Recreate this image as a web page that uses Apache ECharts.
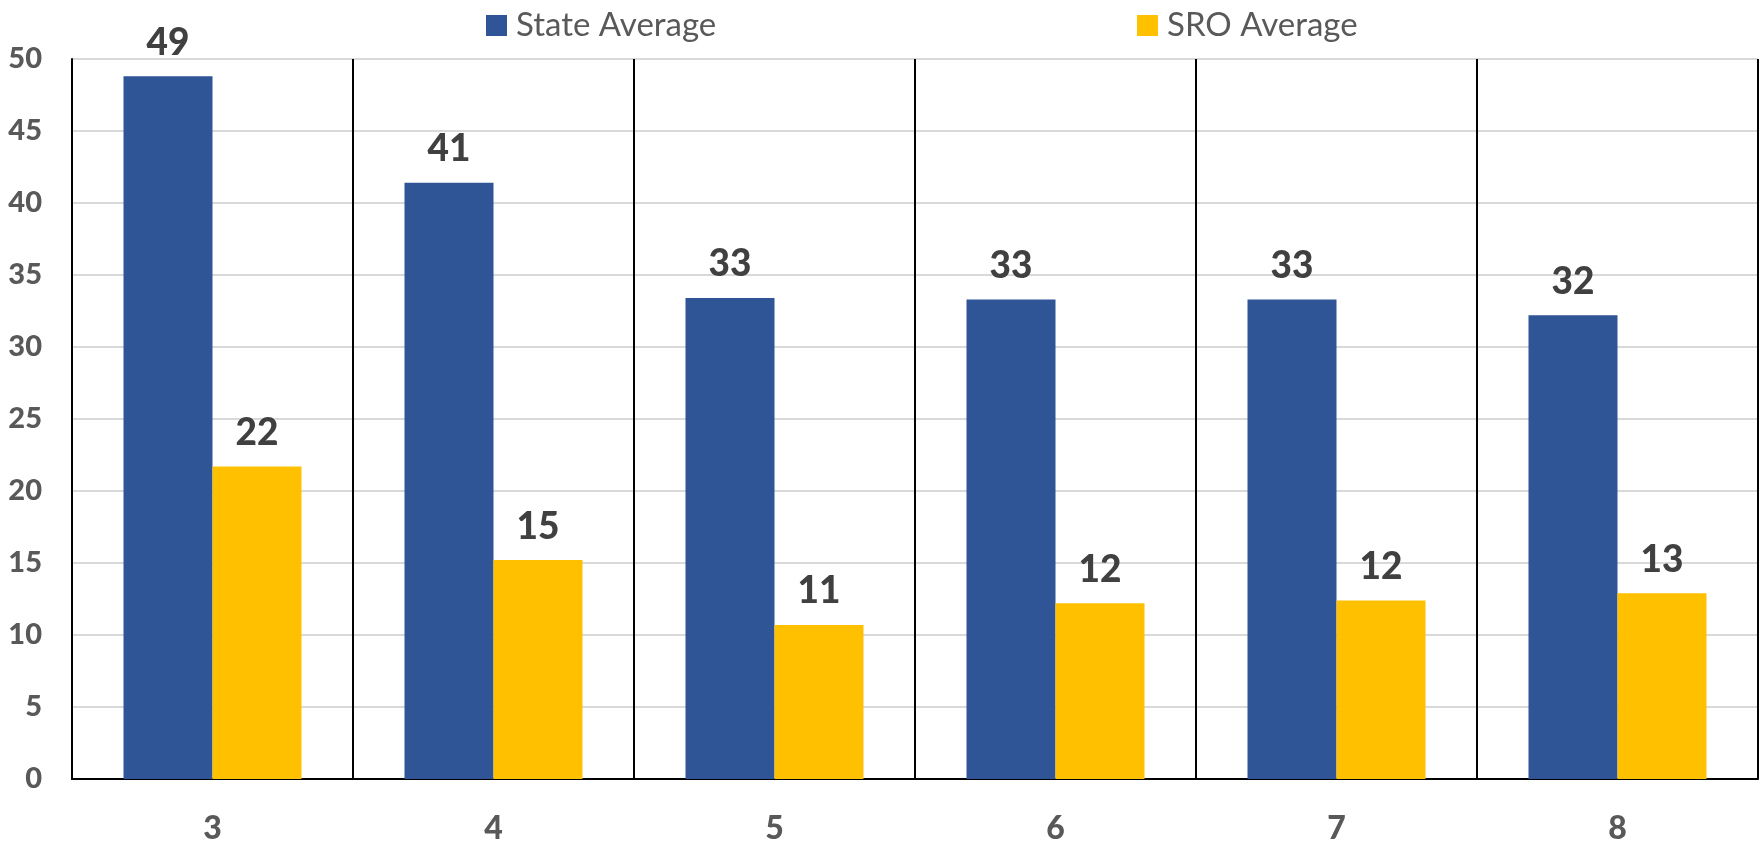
<!DOCTYPE html>
<html>
<head>
<meta charset="utf-8">
<script src="https://cdn.jsdelivr.net/npm/echarts@6/dist/echarts.min.js"></script>
<style>
  html, body { margin: 0; padding: 0; background: #fff; }
  #chart { width: 1760px; height: 845px; }
</style>
</head>
<body>
<div id="chart"></div>
<script>
// Grades and the two averages
const grades = ['3', '4', '5', '6', '7', '8']
const stateAverage = [48.8, 41.4, 33.4, 33.3, 33.3, 32.2]
const sroAverage = [21.7, 15.2, 10.7, 12.2, 12.4, 12.9]

const font = 'Lato, "Open Sans", sans-serif'

const chart = echarts.init(document.getElementById('chart'))

const barLabel = {
  show: true,
  position: 'top',
  distance: 15,
  fontFamily: font,
  fontWeight: 900,
  fontSize: 37,
  color: '#404040',
  formatter: (p) => Math.round(p.value)
}

const legendText = { fontFamily: font, fontSize: 33, color: '#595959', padding: [0, 0, 0, 4] }

chart.setOption({
  animation: false,
  legend: [
    {
      data: ['State Average'],
      left: 481, top: 4,
      icon: 'rect', itemWidth: 21, itemHeight: 21,
      textStyle: legendText
    },
    {
      data: ['SRO Average'],
      left: 1132, top: 4,
      icon: 'rect', itemWidth: 21, itemHeight: 21,
      textStyle: legendText
    }
  ],
  grid: { left: 72, right: 2, top: 59, bottom: 65 },
  xAxis: {
    type: 'category',
    data: grades,
    axisLine: { lineStyle: { color: '#000', width: 2 } },
    axisTick: { show: false },
    axisLabel: {
      margin: 34,
      fontFamily: font,
      fontWeight: 900,
      fontSize: 32,
      color: '#595959'
    },
    splitLine: { show: true, lineStyle: { color: '#000', width: 2 } }
  },
  yAxis: {
    type: 'value',
    min: 0,
    max: 50,
    interval: 5,
    axisLine: { show: true, lineStyle: { color: '#000', width: 2 } },
    axisTick: { show: false },
    axisLabel: {
      margin: 30,
      fontFamily: font,
      fontWeight: 900,
      fontSize: 29,
      color: '#595959'
    },
    splitLine: { lineStyle: { color: '#d9d9d9', width: 2 } }
  },
  series: [
    {
      name: 'State Average',
      type: 'bar',
      data: stateAverage,
      barWidth: 89,
      barGap: 0,
      itemStyle: { color: '#2f5597' },
      label: barLabel
    },
    {
      name: 'SRO Average',
      type: 'bar',
      data: sroAverage,
      barWidth: 89,
      itemStyle: { color: '#ffc000' },
      label: barLabel
    }
  ]
})
</script>
</body>
</html>
